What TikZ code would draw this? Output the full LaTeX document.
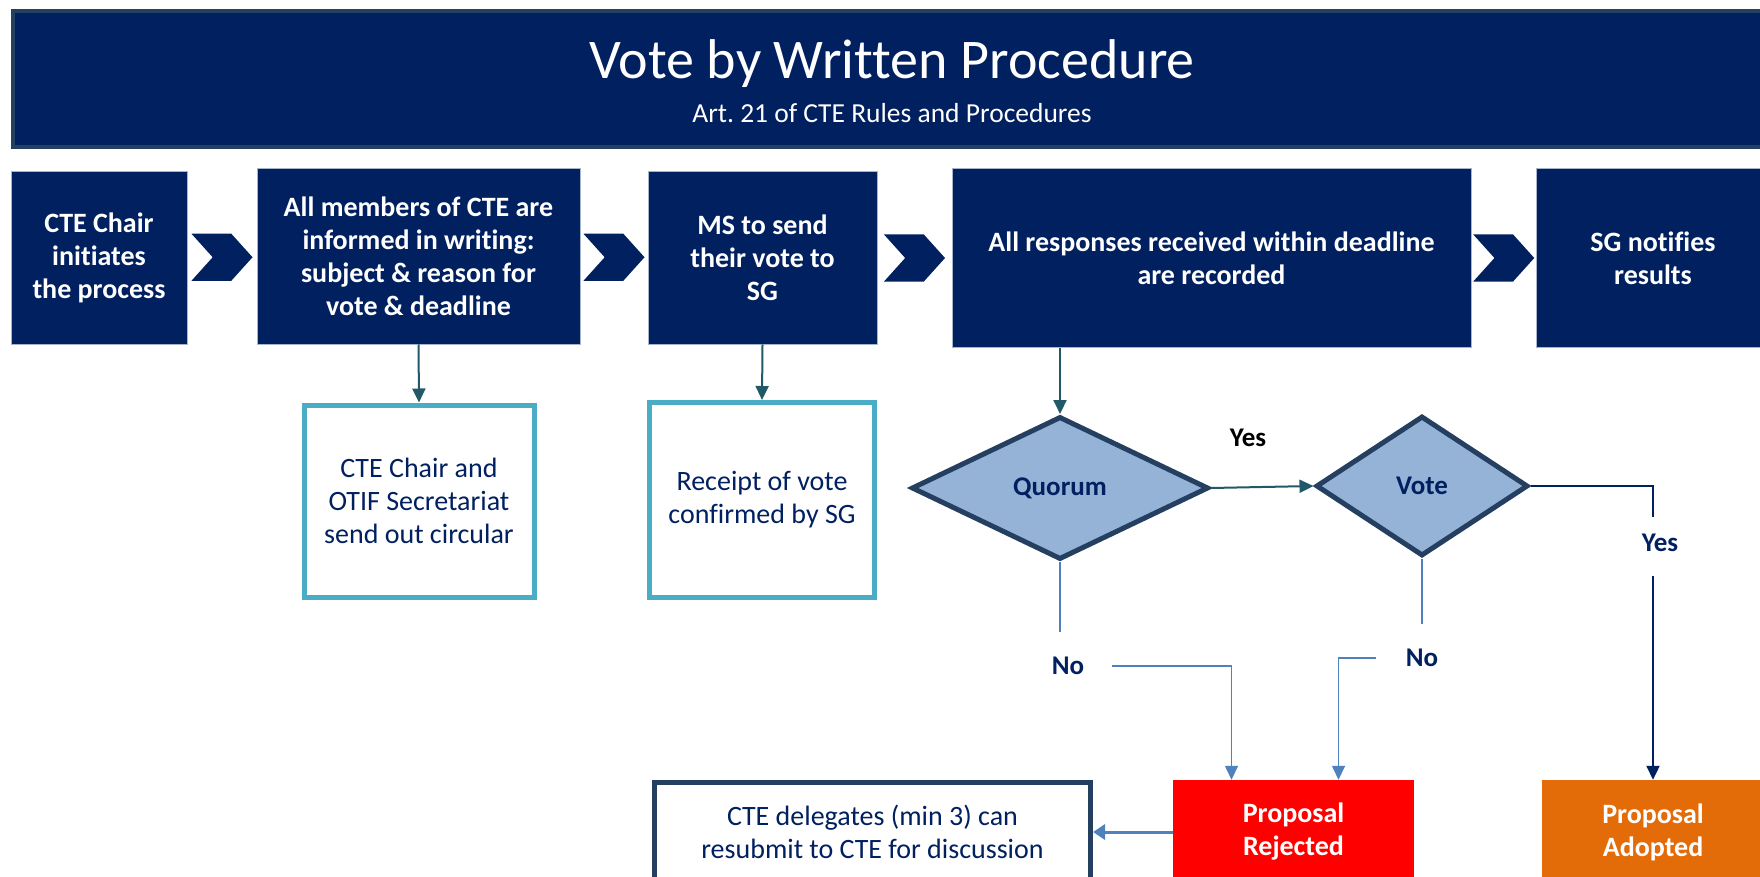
\documentclass[tikz,border=0pt]{standalone}
\usepackage{fontspec}
\setmainfont{Carlito}[Ligatures=CommonOff]
\usetikzlibrary{shapes.geometric,shapes.symbols,arrows.meta,calc}
\definecolor{navy}{HTML}{002060}
\definecolor{edge}{HTML}{243F60}
\definecolor{pale}{HTML}{A6B4CC}
\definecolor{lblue}{HTML}{4BACC6}
\definecolor{dblue}{HTML}{95B3D7}
\definecolor{sblue}{HTML}{4F81BD}
\definecolor{teal}{HTML}{215968}
\definecolor{orng}{HTML}{E36C09}
\frenchspacing
\begin{document}
\begin{tikzpicture}[x=1pt,y=-1pt]
    \tikzstyle{bx} = [rectangle,fill=navy,draw=pale,line width=1pt,text=white,align=center,inner sep=0pt,font=\bfseries\fontsize{28}{33}\selectfont] %step box
    \tikzstyle{chev} = [signal,signal from=west,signal to=east,signal pointer angle=96,fill=navy,minimum width=61,minimum height=47,inner sep=0pt] %chevron
    \tikzstyle{nb} = [rectangle,draw=lblue,line width=5pt,fill=white,text=navy,align=center,inner sep=0pt,font=\fontsize{28}{33}\selectfont] %note box
    \tikzstyle{dm} = [diamond,draw=edge,line width=5pt,fill=dblue,text=navy,inner sep=0pt,font=\bfseries\fontsize{27}{33}\selectfont] %decision
    \tikzstyle{rs} = [rectangle,draw=none,text=white,align=center,inner sep=0pt,minimum height=104,font=\bfseries\fontsize{28}{33}\selectfont] %result
    \tikzstyle{lbl} = [text=navy,inner sep=0pt,font=\bfseries\fontsize{27}{33}\selectfont] %label
    \tikzstyle{ta} = [draw=teal,line width=2pt,-{Triangle[width=13pt,length=14pt]}] %teal arrow
    \tikzstyle{bl} = [draw=sblue,line width=1.5pt] %blue line
    \tikzstyle{nl} = [draw=navy,line width=2pt] %navy line
    \useasboundingbox(0,0)rectangle(1760,877);
    % title
    \node[fill=navy,draw=edge,line width=4pt,minimum width=1767,minimum height=136,inner sep=0pt](bn)at(896.5,79){};
    \node[text=white,font=\fontsize{56}{60}\selectfont](ttl)at(892,64){Vote by Written Procedure};
    \node[text=white,font=\fontsize{27.5}{30}\selectfont](sub)at(892,113){Art. 21 of CTE Rules and Procedures};
    % steps
    \node[bx,minimum width=176,minimum height=172](b1)at(99,258){CTE Chair\\initiates\\the process};
    \node[bx,minimum width=323,minimum height=175](b2)at(418.5,256.5){All members of CTE are\\informed in writing:\\subject \& reason for\\vote \& deadline};
    \node[bx,minimum width=229,minimum height=172](b3)at(762.5,258){MS to send\\their vote to\\SG};
    \node[bx,minimum width=519,minimum height=178](b4)at(1211.5,258){All responses received within deadline\\are recorded};
    \node[bx,minimum width=233,minimum height=178](b5)at(1653,258){SG notifies\\results};
    \node[chev](c1)at($(b1.east)!.5!(b2.west)$){};
    \node[chev](c2)at($(b2.east)!.5!(b3.west)$){};
    \node[chev](c3)at($(b3.east)!.5!(b4.west)$){};
    \node[chev](c4)at($(b4.east)!.5!(b5.west)$){};
    % notes
    \node[nb,minimum width=230,minimum height=192](na)at(419,501){CTE Chair and\\OTIF Secretariat\\send out circular};
    \node[nb,minimum width=225,minimum height=195](nr)at(762,500){Receipt of vote\\confirmed by SG};
    \draw[ta](b2.south)--(na.north);
    \draw[ta](b3.south)--(nr.north);
    % decisions
    \node[dm,minimum width=297,minimum height=143](quorum)at(1060,488){Quorum};
    \node[dm,minimum width=212,minimum height=140](vote)at(1422,486){Vote};
    \draw[ta](quorum.north|-b4.south)--(quorum.north);
    \draw[ta](quorum.east)--(vote.west);
    \node[lbl,text=black](yq)at(1248,438){Yes};
    \node[lbl](yr)at(1660,543){Yes};
    \node[lbl](noq)at(1068,666){No};
    \node[lbl](nov)at(1422,658){No};
    % results
    \node[rs,fill=red,minimum width=241](rej)at(1293.5,832){Proposal\\Rejected};
    \node[rs,fill=orng,minimum width=222](adopt)at(1653,832){Proposal\\Adopted};
    \node[rectangle,draw=edge,line width=5pt,fill=white,text=navy,align=center,inner sep=0pt,minimum width=436,minimum height=100,font=\fontsize{28}{33}\selectfont](res)at(872.5,832){CTE delegates (min 3) can\\resubmit to CTE for discussion};
    \draw[nl,shorten >=17pt](vote.east)-|(adopt.north|-yr.north);
    \draw[nl,shorten <=24pt,-{Triangle[width=13pt,length=14pt]}](adopt.north|-yr.south)--(adopt.north);
    \draw[bl,shorten >=25pt](quorum.south)--(quorum.south|-noq.north);
    \draw[bl,shorten <=28pt,-{Triangle[width=13pt,length=14pt]}](noq.east)-|([xshift=-62pt]rej.north);
    \draw[bl,shorten >=25pt](vote.south)--(vote.south|-nov.north);
    \draw[bl,shorten <=30pt,-{Triangle[width=13pt,length=14pt]}](nov.west)-|([xshift=45pt]rej.north);
    \draw[bl,line width=3pt,-{Triangle[width=15pt,length=12pt]}](rej.west)--(res.east);
  \end{tikzpicture}
\end{document}
